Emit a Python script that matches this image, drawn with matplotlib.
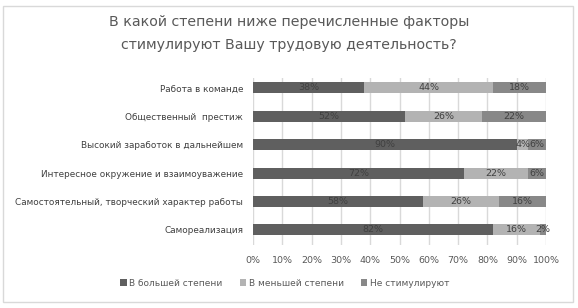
import matplotlib.pyplot as plt
from matplotlib.patches import Rectangle
import numpy as np

# data (top to bottom as in the picture)
categories = ['Работа в команде', 'Общественный  престиж', 'Высокий заработок в дальнейшем',
              'Интересное окружение и взаимоуважение',
              'Самостоятельный, творческий характер работы', 'Самореализация']
bigger = [38, 52, 90, 72, 58, 82]
smaller = [44, 26, 4, 22, 26, 16]
none_ = [18, 22, 6, 6, 16, 2]
series_names = ['В большей степени', 'В меньшей степени', 'Не стимулируют']
xticks = [0, 10, 20, 30, 40, 50, 60, 70, 80, 90, 100]

colors = ['#5f5f5f', '#b3b3b3', '#888888']
txt = '#404040'

fig = plt.figure(figsize=(5.78, 3.08), dpi=100)
fig.patches.append(Rectangle((3/578, 1-302/308), 570/578, 296/308, transform=fig.transFigure,
                             fill=False, edgecolor='#d9d9d9', linewidth=1))

ax = fig.add_axes([253/578, 1-245/308, 293/578, 167/308])
y = np.arange(len(categories))[::-1]
left = np.zeros(len(categories))
for vals, c, name in zip([bigger, smaller, none_], colors, series_names):
    vals = np.array(vals)
    ax.barh(y, vals, left=left, height=0.39, color=c, label=name, zorder=2)
    for yi, l, v in zip(y, left, vals):
        ax.text(l + v/2, yi, f'{v}%', ha='center', va='center', fontsize=6.8, color=txt, zorder=3)
    left += vals

ax.set_xlim(0, 100)
ax.set_ylim(-0.53, 5.35)
ax.set_xticks(xticks)
ax.set_xticklabels([f'{t}%' for t in xticks], fontsize=6.8, color='#595959')
ax.set_yticks(y)
ax.set_yticklabels(categories, fontsize=6.4, color=txt)
ax.tick_params(length=0, pad=7)
ax.tick_params(axis='x', pad=8)
ax.grid(axis='x', color='#d9d9d9', linewidth=1, zorder=0)
for s in ax.spines.values():
    s.set_visible(False)

fig.text(0.5, 1-22/308, 'В какой степени ниже перечисленные факторы', ha='center', va='center',
         fontsize=10.2, color='#595959')
fig.text(0.5, 1-45/308, 'стимулируют Вашу трудовую деятельность?', ha='center', va='center',
         fontsize=10.2, color='#595959')

fig.legend(loc='center', bbox_to_anchor=(285/578, 1-283/308), ncol=3, frameon=False, fontsize=6.5,
           handlelength=0.7, handleheight=0.7, handletextpad=0.3, columnspacing=1.9,
           labelcolor='#595959')

fig.savefig('out.png', dpi=100)
